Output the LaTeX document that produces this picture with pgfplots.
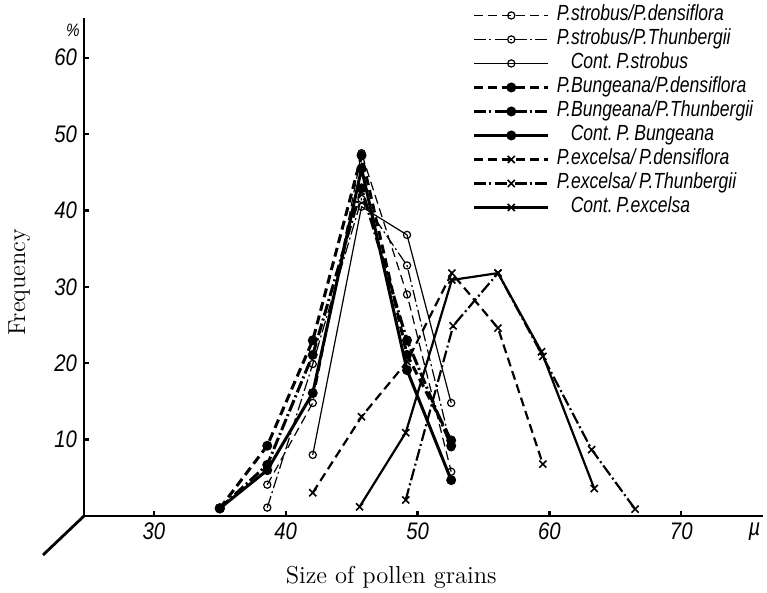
\documentclass[border=0pt]{standalone}
\usepackage{fontspec}
\usepackage{pgfplots}
\pgfplotsset{compat=1.18}
\newfontfamily\hand{Liberation Sans}[FakeStretch=0.85]
\newfontfamily\handleg{Liberation Sans}[FakeStretch=0.8]
\tikzset{
  dsh/.style={dash pattern=on 4.5bp off 2.5bp},
  ddt/.style={dash pattern=on 6bp off 1.6bp on 1bp off 1.6bp},
}
\begin{document}
\begin{tikzpicture}
\path[use as bounding box] (-42bp,-38.5bp) rectangle (341.5bp,258bp);
\begin{axis}[
  scale only axis, width=339.5bp, height=249bp,
  xmin=24.7, xmax=76.2, ymin=0, ymax=65.2,
  axis lines=left, axis line style={-, line width=1.4bp},
  xtick={30,40,...,70}, ytick={10,20,...,60},
  tick align=inside, major tick length=2.5bp, tick style={line width=1.2bp, black},
  ticklabel style={font=\hand\itshape\fontsize{12}{12}\selectfont},
  /pgf/number format/assume math mode=true,
  clip=false,
  legend cell align=left,
  legend style={draw=none, fill=none, at={(0.572,1.03)}, anchor=north west,
    font=\handleg\itshape\fontsize{11}{12}\selectfont, inner sep=0pt, row sep=0pt, column sep=3bp,
    nodes={inner sep=0.5bp, text height=8bp, text depth=3bp}},
  legend image code/.code={\draw[mark repeat=2,mark phase=2,#1] plot coordinates {(0bp,0bp) (18.5bp,0bp) (37bp,0bp)};},
]
% P. strobus
\addplot[black, line width=0.6bp, dsh, mark=o, mark size=1.8bp, mark options={solid, fill=white, line width=0.6bp}]
  coordinates {(38.6,4.1) (42.05,14.8) (45.75,47.5) (49.2,29.0) (52.55,5.8)};
\addlegendentry{P.strobus/P.densiflora}
\addplot[black, line width=0.6bp, ddt, mark=o, mark size=1.8bp, mark options={solid, fill=white, line width=0.6bp}]
  coordinates {(38.6,1.1) (42.05,19.9) (45.75,41.5) (49.2,32.8) (52.55,9.0)};
\addlegendentry{P.strobus/P.Thunbergii}
\addplot[black, line width=0.6bp, solid, mark=o, mark size=1.8bp, mark options={solid, fill=white, line width=0.6bp}]
  coordinates {(42.05,8.0) (45.75,40.5) (49.2,36.8) (52.55,14.8)};
\addlegendentry{\hspace{7bp}Cont.\,P.strobus}
% P. Bungeana
\addplot[black, line width=1.5bp, dsh, mark=*, mark size=1.7bp, mark options={solid}]
  coordinates {(35,1) (38.6,9.2) (42.05,23.0) (45.75,47.2) (49.2,21.1) (52.55,9.9)};
\addlegendentry{P.Bungeana/P.densiflora}
\addplot[black, line width=1.5bp, ddt, mark=*, mark size=1.7bp, mark options={solid}]
  coordinates {(35,1) (38.6,6.7) (42.05,21.1) (45.75,42.9) (49.2,23.0) (52.55,9.2)};
\addlegendentry{P.Bungeana/P.Thunbergii}
\addplot[black, line width=1.5bp, solid, mark=*, mark size=1.7bp, mark options={solid}]
  coordinates {(35,1) (38.6,6.0) (42.05,16.1) (45.75,45.5) (49.2,19.1) (52.55,4.7)};
\addlegendentry{\hspace{7bp}Cont.\,P.\,Bungeana}
% P. excelsa
\addplot[black, line width=1.1bp, dsh, mark=x, mark size=2.5bp, mark options={solid, line width=0.8bp}]
  coordinates {(42.05,3.05) (45.75,13.0) (49.2,20.2) (52.6,31.8) (56.1,24.6) (59.5,6.8)};
\addlegendentry{P.excelsa/\,P.densiflora}
\addplot[black, line width=1.1bp, ddt, mark=x, mark size=2.5bp, mark options={solid, line width=0.8bp}]
  coordinates {(49.1,2.1) (52.7,24.9) (56.1,31.8) (59.5,20.9) (63.2,8.7) (66.5,0.9)};
\addlegendentry{P.excelsa/\,P.Thunbergii}
\addplot[black, line width=1.1bp, solid, mark=x, mark size=2.5bp, mark options={solid, line width=0.8bp}]
  coordinates {(45.6,1.2) (49.1,10.9) (52.6,30.9) (56.1,31.8) (59.4,21.5) (63.4,3.6)};
\addlegendentry{\hspace{7bp}Cont.\,P.excelsa}
% labels
\node[font=\fontsize{12.3}{12}\selectfont\addfontfeatures{LetterSpace=7}] at (axis cs:48.0,-8.1) {Size of pollen grains};
\node[rotate=90, font=\fontsize{12.3}{12}\selectfont\addfontfeatures{LetterSpace=7}] at (axis cs:19.8,30.6) {Frequency};
\node[font=\hand\itshape\fontsize{9}{9}\selectfont] at (axis cs:23.85,63.6) {\%};
\node[font=\hand\itshape\fontsize{12}{12}\selectfont] at (axis cs:75.55,-2.0) {µ};
\end{axis}
\draw[line width=1.4bp] (0,0) -- (-20.5bp,-19.5bp);
\end{tikzpicture}
\end{document}
